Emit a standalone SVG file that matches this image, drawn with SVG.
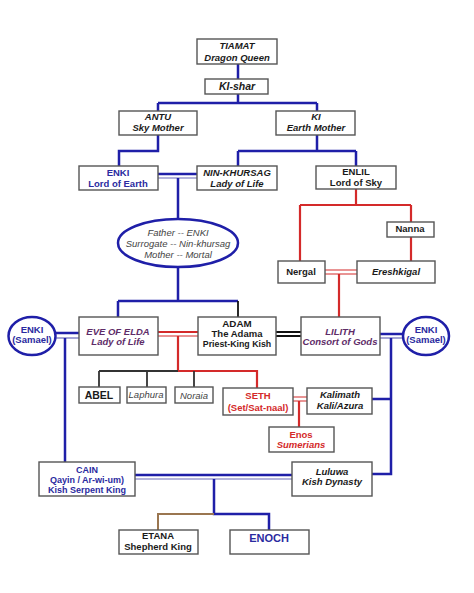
<svg xmlns="http://www.w3.org/2000/svg" width="474" height="593" viewBox="0 0 474 593">
<style>
.box{fill:#fff;stroke:#555;stroke-width:1.4}
.ell{fill:#fff;stroke:#1f1fa8;stroke-width:2.5}
.b{fill:none;stroke:#1f1fa8;stroke-width:2.5}
.bt{fill:none;stroke:#6a6ab8;stroke-width:1.2}
.r{fill:none;stroke:#d42a2a;stroke-width:2.2}
.rt{fill:none;stroke:#d42a2a;stroke-width:1.2}
.k{fill:none;stroke:#333;stroke-width:1.8}
.kt{fill:none;stroke:#111;stroke-width:1.8}
.br{fill:none;stroke:#9a7650;stroke-width:2}
text{font-family:"Liberation Sans",Arial,sans-serif;font-size:9.5px;font-weight:bold;text-anchor:middle;fill:#1a1a1a}
.i{font-style:italic}
.n{font-weight:normal}
.blue{fill:#2a2aa0}
.pur{fill:#5e2c68}
.red{fill:#d42a2a}
.gr{fill:#444}
</style>
<rect width="474" height="593" fill="#fff"/>
<g id="connectors">
<path class="b" d="M238,64V79M238,94V103M158,103H317M158,103V111M317,103V111"/>
<path class="b" d="M158,135V151H119V166M317,135V151M238,151H356M238,151V166M356,151V166"/>
<path class="b" d="M158,174H197"/><path class="bt" d="M158,178H197"/>
<path class="b" d="M178,178V219M178,267V301M118,301H238M118,301V317"/>
<path class="kt" d="M238,301V317"/>
<path class="r" d="M356,189V205M300,205H411M300,205V261M411,205V222M411,237V261"/>
<path class="rt" d="M325,270H357M325,274H357"/>
<path class="r" d="M339,274V317"/>
<path class="b" d="M55,333H79"/><path class="bt" d="M55,338H79"/>
<path class="b" d="M65,338V462"/>
<path class="r" d="M158,332H198"/><path class="rt" d="M158,336H198"/>
<path class="r" d="M178,336V371H257V388"/>
<path class="k" d="M99,371H178M99,371V387M147,371V387M194,371V387"/>
<path class="kt" d="M276,332H301M276,336H301"/>
<path class="b" d="M380,334H403"/><path class="bt" d="M380,338H403"/>
<path class="b" d="M391,338V474H372M372,399H391"/>
<path class="rt" d="M293,397H307M293,401H307"/>
<path class="r" d="M299,401V427"/>
<path class="b" d="M135,475H292"/><path class="bt" d="M135,479H292"/>
<path class="b" d="M214,479V514H269V530"/>
<path class="br" d="M214,514H158V530"/>
</g>
<g id="tiamat"><rect class="box" x="197" y="39" width="80" height="25"/><text class="i" x="237" y="49">TIAMAT</text><text class="i" x="237" y="61">Dragon Queen</text></g>
<g id="kishar"><rect class="box" x="205" y="79" width="63" height="15"/><text class="i" x="237" y="90" style="font-size:10.5px">KI-shar</text></g>
<g id="antu"><rect class="box" x="119" y="111" width="78" height="24"/><text class="i" x="158" y="120">ANTU</text><text class="i" x="158" y="131">Sky Mother</text></g>
<g id="ki"><rect class="box" x="276" y="111" width="79" height="24"/><text class="i" x="316" y="120">KI</text><text class="i" x="316" y="131">Earth Mother</text></g>
<g id="enki"><rect class="box" x="79" y="166" width="79" height="24"/><text class="blue" x="118" y="176">ENKI</text><text class="blue" x="118" y="187">Lord of Earth</text></g>
<g id="ninkhursag"><rect class="box" x="197" y="166" width="80" height="24"/><text class="i" x="237" y="176">NIN-KHURSAG</text><text class="i" x="237" y="187">Lady of Life</text></g>
<g id="enlil"><rect class="box" x="316" y="166" width="80" height="23"/><text x="356" y="175">ENLIL</text><text x="356" y="186">Lord of Sky</text></g>
<g id="surrogate"><ellipse class="ell" cx="178" cy="243" rx="60" ry="24"/><text class="i n gr" x="178" y="236">Father -- ENKI</text><text class="i n gr" x="178" y="247">Surrogate -- Nin-khursag</text><text class="i n gr" x="178" y="258">Mother -- Mortal</text></g>
<g id="nanna"><rect class="box" x="387" y="222" width="47" height="15"/><text x="410" y="232">Nanna</text></g>
<g id="nergal"><rect class="box" x="278" y="261" width="47" height="22"/><text x="301" y="275">Nergal</text></g>
<g id="ereshkigal"><rect class="box" x="357" y="261" width="78" height="22"/><text class="i" x="396" y="275">Ereshkigal</text></g>
<g id="enki-left"><ellipse class="ell" cx="32" cy="336" rx="23.5" ry="19"/><text class="blue" x="32" y="333">ENKI</text><text class="blue" x="32" y="343">(Samael)</text></g>
<g id="eve"><rect class="box" x="79" y="317" width="79" height="38"/><text class="i pur" x="118" y="335">EVE OF ELDA</text><text class="i pur" x="118" y="345">Lady of Life</text></g>
<g id="adam"><rect class="box" x="198" y="317" width="78" height="38"/><text x="237" y="327" style="font-size:9.8px">ADAM</text><text x="237" y="337" style="font-size:9.5px">The Adama</text><text x="237" y="347" style="font-size:8.8px">Priest-King Kish</text></g>
<g id="lilith"><rect class="box" x="301" y="317" width="79" height="38"/><text class="i pur" x="340" y="335">LILITH</text><text class="i pur" x="340" y="345">Consort of Gods</text></g>
<g id="enki-right"><ellipse class="ell" cx="426" cy="336" rx="23" ry="19"/><text class="blue" x="426" y="333">ENKI</text><text class="blue" x="426" y="343">(Samael)</text></g>
<g id="abel"><rect class="box" x="79" y="387" width="41" height="16"/><text x="99" y="399" style="font-size:10.5px">ABEL</text></g>
<g id="laphura"><rect class="box" x="127" y="387" width="39" height="16"/><text class="i n gr" x="146" y="398">Laphura</text></g>
<g id="noraia"><rect class="box" x="175" y="387" width="38" height="16"/><text class="i n gr" x="194" y="399">Noraia</text></g>
<g id="seth"><rect class="box" x="223" y="388" width="70" height="27"/><text class="red" x="258" y="399">SETH</text><text class="red" x="258" y="411">(Set/Sat-naal)</text></g>
<g id="kalimath"><rect class="box" x="307" y="388" width="65" height="26"/><text class="i" x="340" y="398">Kalimath</text><text class="i" x="340" y="409">Kali/Azura</text></g>
<g id="enos"><rect class="box" x="269" y="427" width="65" height="25"/><text class="red" x="301" y="438">Enos</text><text class="red i" x="301" y="448">Sumerians</text></g>
<g id="cain"><rect class="box" x="39" y="462" width="96" height="34"/><text class="blue" x="87" y="473" style="font-size:9px">CAIN</text><text class="blue" x="87" y="483" style="font-size:9px">Qayin / Ar-wi-um)</text><text class="blue" x="87" y="493" style="font-size:9px">Kish Serpent King</text></g>
<g id="luluwa"><rect class="box" x="292" y="462" width="80" height="34"/><text class="i" x="332" y="475">Luluwa</text><text class="i" x="332" y="485">Kish Dynasty</text></g>
<g id="etana"><rect class="box" x="119" y="530" width="79" height="24"/><text x="158" y="539">ETANA</text><text x="158" y="550">Shepherd King</text></g>
<g id="enoch"><rect class="box" x="230" y="530" width="79" height="24"/><text class="blue" x="269" y="542" style="font-size:11px">ENOCH</text></g>
</svg>
